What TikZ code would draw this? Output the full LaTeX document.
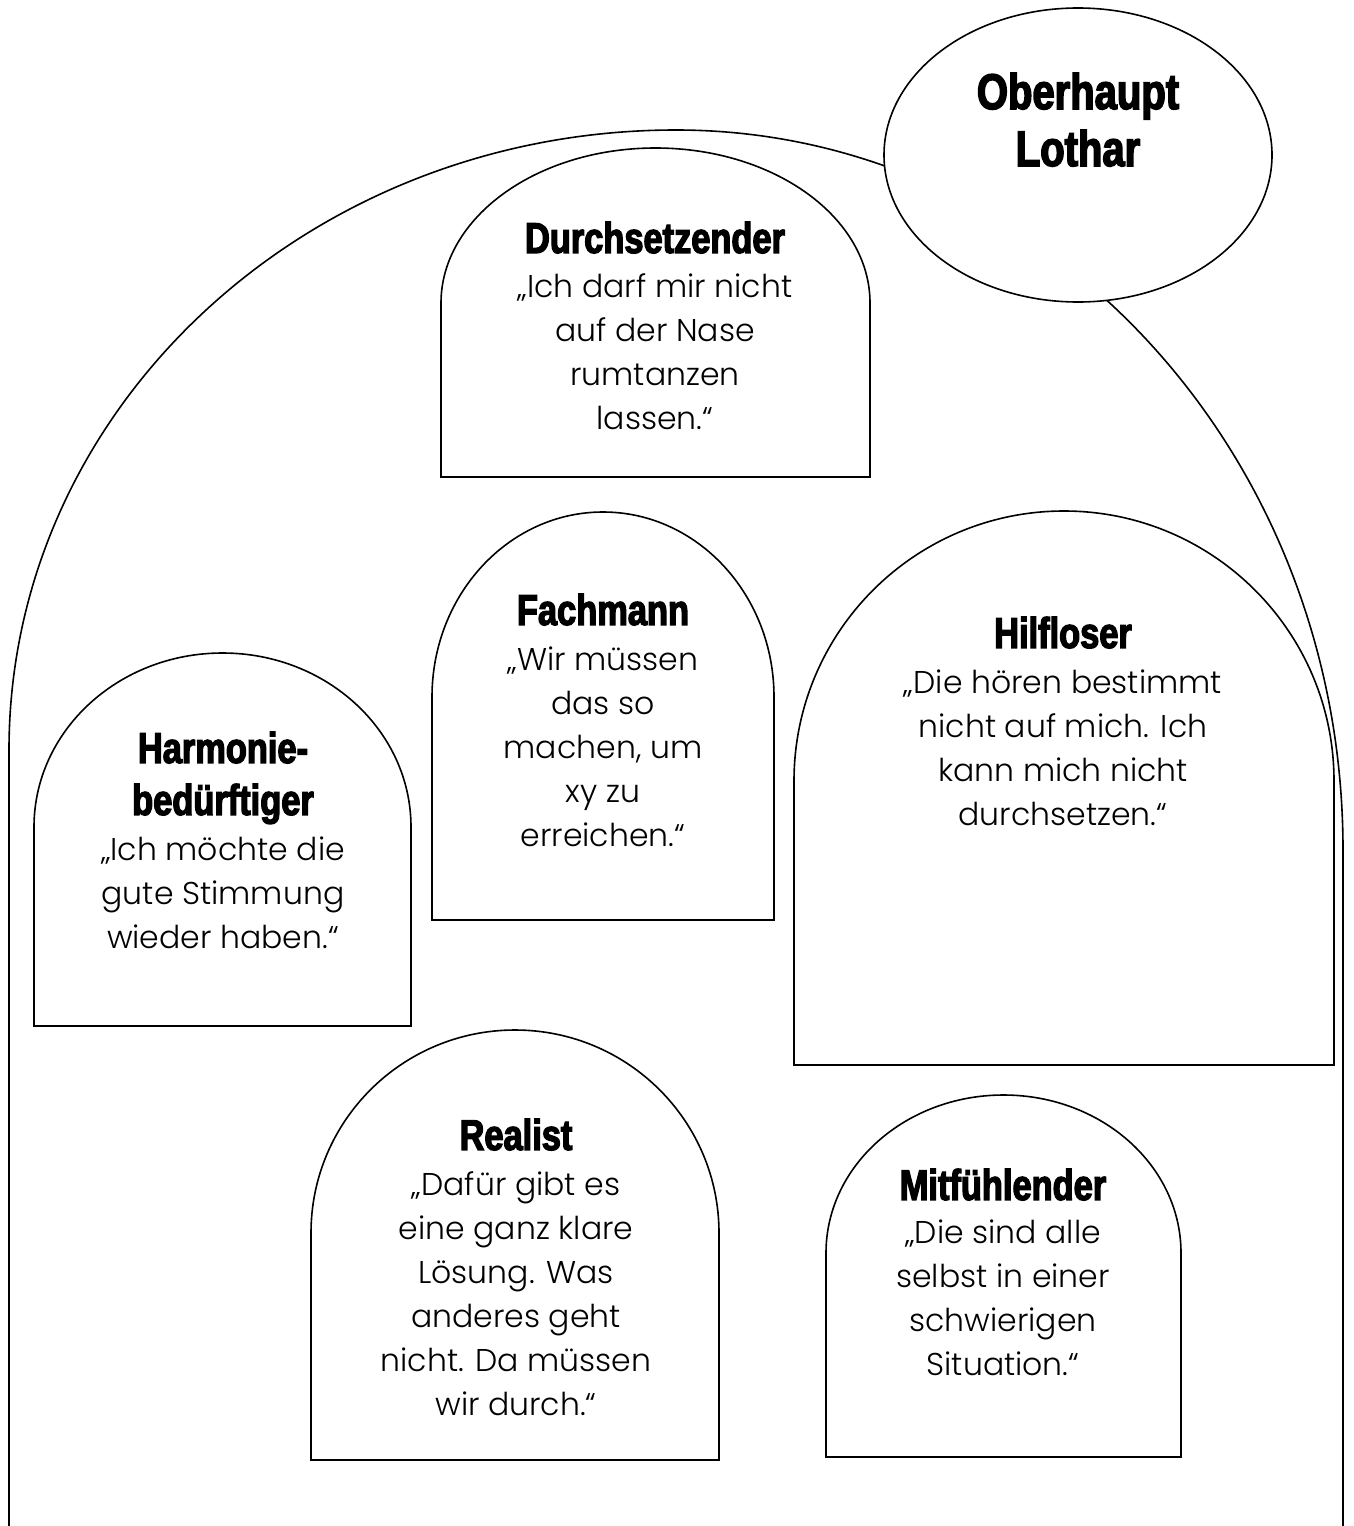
\documentclass[tikz,border=0pt]{standalone}
\usepackage{fontspec}
\usetikzlibrary{shapes.geometric}
\newfontfamily\koerperfont{Poppins Light}
\newfontfamily\titelfont{Liberation Sans Bold}[FakeStretch=0.8,FakeBold=3]
\newcommand\koerper{\koerperfont\fontsize{31.5}{44}\selectfont}
\newcommand\titel[1]{{\titelfont\fontsize{43}{44}\selectfont #1}}
\newcommand\grabstein[5]{\draw[fill=white] ({#1-#2},-#3) -- ({#1-#2},-#4) arc[start angle=180,end angle=0,x radius=#2pt,y radius=#5pt] -- ({#1+#2},-#3) -- cycle;}

\begin{document}
\begin{tikzpicture}[x=1pt,y=1pt,line width=1.6pt,
  spruch/.style={align=center,inner sep=0pt,anchor=north,font=\koerper},
  oval/.style={draw,ellipse,fill=white,inner sep=0pt,minimum width=388pt,minimum height=294pt}]
\fill[white] (0,0) rectangle (1354,-1526);
\useasboundingbox (0,0) rectangle (1354,-1526);
\draw (9,-1526) -- (9,-750) arc[start angle=180,end angle=90,x radius=667pt,y radius=620pt]
  arc[start angle=90,end angle=0,x radius=667pt,y radius=720pt] -- (1343,-1526);
\node[oval] (oberhaupt) at (1078,-155) {};
\node[spruch,font=\titelfont\fontsize{50}{57}\selectfont] (lothar) at (1078,-72) {Oberhaupt\\Lothar};

\grabstein{655.5}{214.5}{477}{303}{155}
\grabstein{603}{171}{920}{697}{185}
\grabstein{222.5}{188.5}{1026}{827}{174}
\grabstein{1064}{270}{1065}{781}{270}
\grabstein{515}{204}{1460}{1233}{203}
\grabstein{1003.5}{177.5}{1457}{1253}{158}

\node[spruch] (durchsetzender) at (655,-221) {\titel{Durchsetzender}\\[1pt]
  „Ich darf mir nicht\\auf der Nase\\rumtanzen\\lassen.“};
\node[spruch] (fachmann) at (603,-593) {\titel{Fachmann}\\[2pt]
  „Wir müssen\\das so\\machen, um\\xy zu\\erreichen.“};
\node[spruch] (harmonie) at (223,-731) {\titel{Harmonie-}\\[8pt]\titel{bedürftiger}\\[2pt]
  „Ich möchte die\\gute Stimmung\\wieder haben.“};
\node[spruch] (hilfloser) at (1063,-616) {\titel{Hilfloser}\\[2pt]
  „Die hören bestimmt\\nicht auf mich. Ich\\kann mich nicht\\durchsetzen.“};
\node[spruch] (realist) at (516,-1118) {\titel{Realist}\\[2pt]
  „Dafür gibt es\\eine ganz klare\\Lösung. Was\\anderes geht\\nicht. Da müssen\\wir durch.“};
\node[spruch] (mitfuehlender) at (1003,-1168) {\titel{Mitfühlender}\\[0pt]
  „Die sind alle\\selbst in einer\\schwierigen\\Situation.“};
\end{tikzpicture}
\end{document}
